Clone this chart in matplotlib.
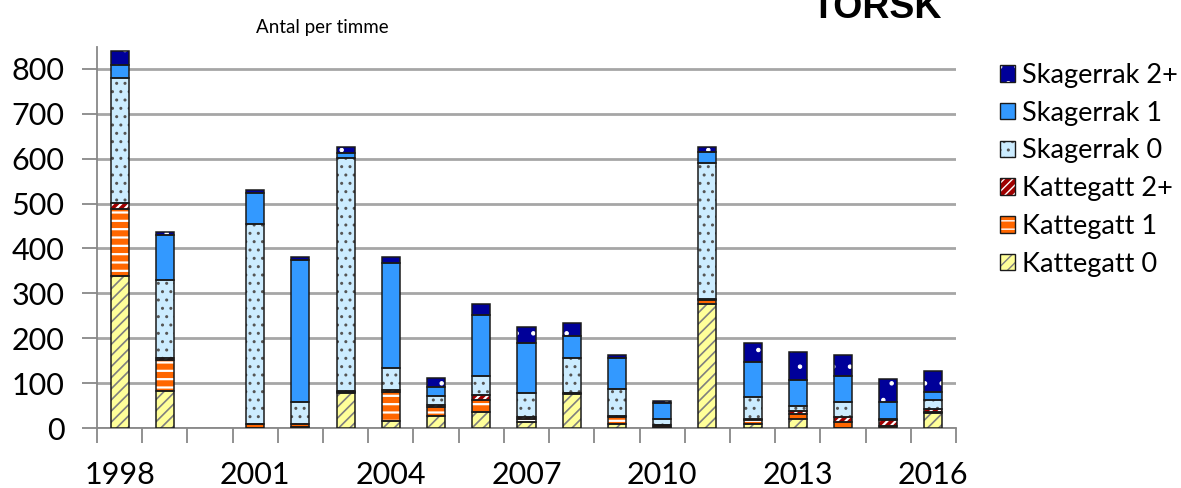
import matplotlib
matplotlib.use("Agg")
import matplotlib.pyplot as plt
from matplotlib.patches import Patch
from matplotlib.legend_handler import HandlerTuple
import numpy as np

years = list(range(1998, 2017))
kattegatt_0 = [338, 82, 0, 1, 3, 77, 16, 27, 35, 13, 76, 9, 2, 276, 10, 19, 1, 1, 33]
kattegatt_1 = [150, 69, 0, 7, 7, 3, 65, 19, 27, 8, 2, 16, 4, 9, 8, 12, 12, 3, 3]
kattegatt_2 = [13, 5, 0, 1, 0, 2, 3, 5, 11, 4, 1, 2, 1, 2, 2, 7, 11, 13, 6]
skagerrak_0 = [278, 173, 0, 445, 48, 519, 50, 20, 43, 53, 78, 60, 13, 304, 49, 10, 35, 2, 21]
skagerrak_1 = [30, 102, 0, 69, 316, 12, 234, 20, 136, 112, 47, 69, 35, 24, 77, 60, 56, 38, 18]
skagerrak_2 = [30, 5, 0, 8, 8, 12, 13, 21, 25, 36, 29, 7, 5, 12, 43, 62, 47, 53, 47]

series_names = ["Kattegatt 0", "Kattegatt 1", "Kattegatt 2+",
                "Skagerrak 0", "Skagerrak 1", "Skagerrak 2+"]
series_vals = [kattegatt_0, kattegatt_1, kattegatt_2,
               skagerrak_0, skagerrak_1, skagerrak_2]
face_colors = ["#FFFF99", "#FF6600", "#A00000", "#CCECFF", "#3399FF", "#000099"]
hatches = ["///", "--", "////", "..", ".", "."]
hatch_colors = ["#7F7F7F", "#FFFFFF", "#FFFFFF", "#555555", "#3399FF", "#FFFFFF"]
hatch_lw = [1.2, 1.6, 1.6, 1.0, 0.0, 0.8]

tick_labels = [str(y) if (y - 1998) % 3 == 0 else "" for y in years]

plt.rcParams['font.family'] = ['Lato', 'DejaVu Sans']

fig = plt.figure(figsize=(11.81, 4.88), dpi=100)
ax = fig.add_axes([97 / 1181, 1 - 428 / 488, (956 - 97) / 1181, (428 - 46.5) / 488])

x = np.arange(len(years))
width = 0.4
bottom = np.zeros(len(years))
for name, vals, fc, h, hc, hl in zip(series_names, series_vals, face_colors,
                                     hatches, hatch_colors, hatch_lw):
    vals = np.array(vals, dtype=float)
    edge = ['#1a1a1a' if v > 0 else 'none' for v in vals]
    with plt.rc_context({'hatch.linewidth': max(hl, 0.1)}):
        if hl > 0:
            ax.bar(x, vals, width, bottom=bottom, color=fc, edgecolor=hc,
                   linewidth=0, hatch=h, zorder=3)
        else:
            ax.bar(x, vals, width, bottom=bottom, color=fc, linewidth=0, zorder=3)
    ax.bar(x, vals, width, bottom=bottom, facecolor='none', edgecolor=edge,
           linewidth=1.1, zorder=4)
    bottom += vals

ax.set_xlim(-0.5, len(years) - 0.5)
ax.set_ylim(0, 850)
ax.set_yticks(np.arange(0, 801, 100))
ax.yaxis.grid(True, color='#A6A6A6', linewidth=2, zorder=0)
ax.set_axisbelow(True)

ax.set_xticks(x)
ax.set_xticklabels(tick_labels)
ax.set_xticks(np.arange(-0.5, len(years), 1), minor=True)
ax.tick_params(axis='x', which='major', length=0, pad=23.5, labelsize=22)
ax.tick_params(axis='x', which='minor', length=11, width=1.3, color='#888888')
ax.tick_params(axis='y', length=11, width=1.3, color='#888888', pad=12.5, labelsize=22)

for s in ['top', 'right']:
    ax.spines[s].set_visible(False)
for s in ['left', 'bottom']:
    ax.spines[s].set_color('#888888')
    ax.spines[s].set_linewidth(1.3)

# Legend
handles = []
for fc, h, hc, hl in zip(face_colors, hatches, hatch_colors, hatch_lw):
    with plt.rc_context({'hatch.linewidth': max(hl, 0.1)}):
        if hl > 0:
            p1 = Patch(facecolor=fc, edgecolor=hc, linewidth=0, hatch=h)
        else:
            p1 = Patch(facecolor=fc, linewidth=0)
    p2 = Patch(facecolor='none', edgecolor='#1a1a1a', linewidth=1.0)
    handles.append((p1, p2))
leg = fig.legend(handles[::-1], series_names[::-1],
                 handler_map={tuple: HandlerTuple(ndivide=1, pad=0)},
                 loc='upper left', bbox_to_anchor=(1000 / 1181, 1 - 63 / 488),
                 frameon=False, fontsize=19.5, handlelength=0.57, handleheight=0.57,
                 handletextpad=0.25, labelspacing=0.47, borderaxespad=0,
                 borderpad=0)

fig.text(322 / 1181, 1 - 33 / 488, "Antal per timme", ha='center', va='baseline',
         fontsize=13.5)
fig.text(877 / 1181, 1 - 18 / 488, "TORSK", ha='center', va='baseline',
         fontsize=27, fontweight='bold', family=['Liberation Sans', 'DejaVu Sans'])

fig.savefig("out.png", dpi=100)
